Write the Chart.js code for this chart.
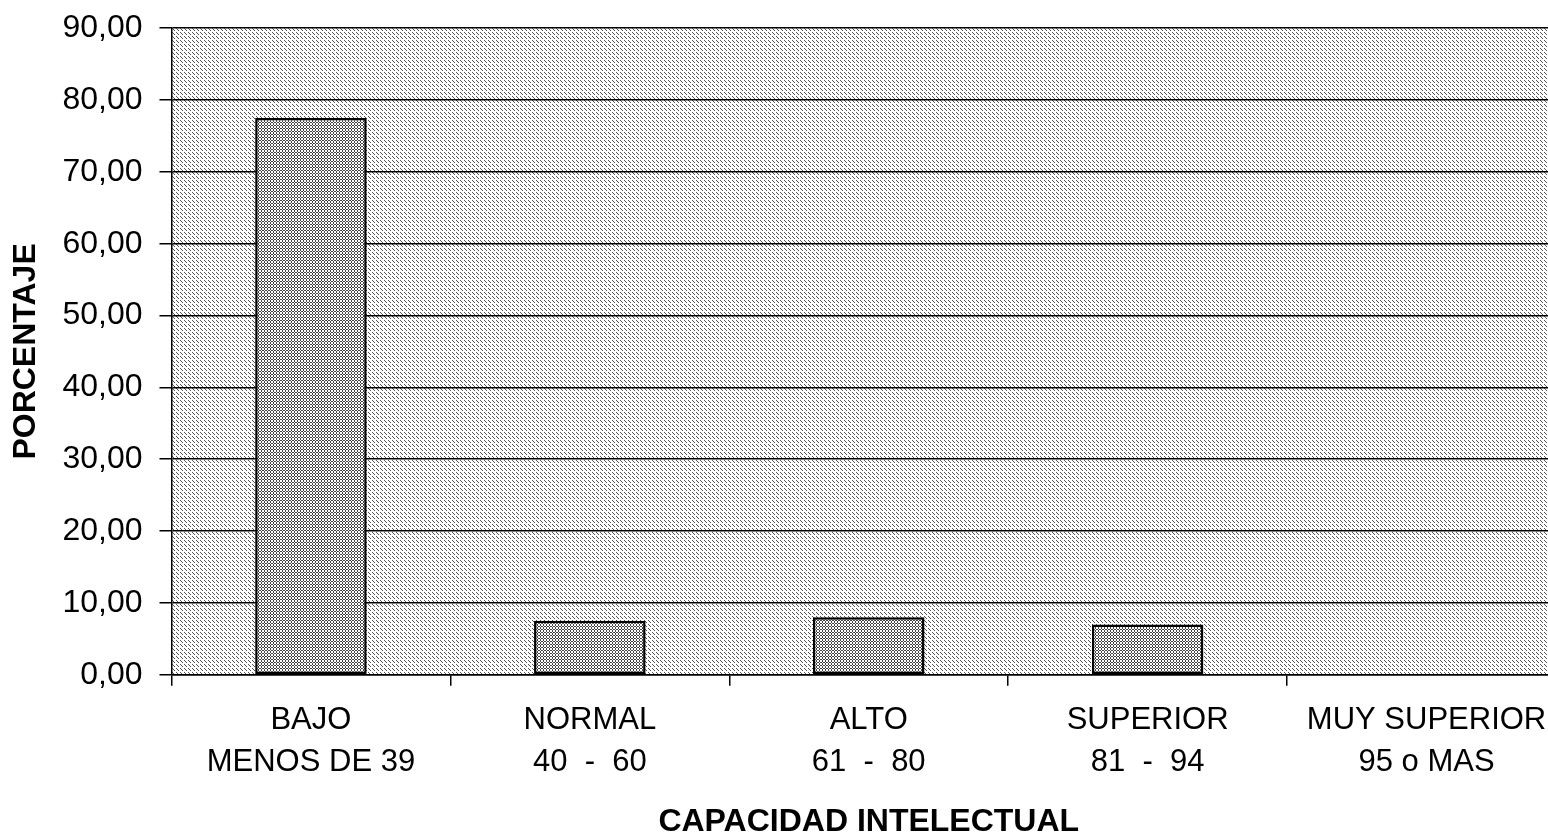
<!DOCTYPE html>
<html>
<head>
<meta charset="utf-8">
<script src="https://cdn.jsdelivr.net/npm/chart.js@4"></script>
<style>
  html, body { margin: 0; padding: 0; background: #fff; overflow: hidden; }
  #wrap { width: 1566px; height: 833px; }
</style>
</head>
<body>
<div id="wrap"><canvas id="c" width="1566" height="833"></canvas></div>
<script>
const categories = [
  ["BAJO", "MENOS DE 39"],
  ["NORMAL", "40  -  60"],
  ["ALTO", "61  -  80"],
  ["SUPERIOR", "81  -  94"],
  ["MUY SUPERIOR", "95 o MAS"]
];
const porcentaje = [77.5, 7.5, 8.0, 7.0, 0];
const yTickMin = 0, yTickMax = 90, yTickStep = 10;
const xTitle = "CAPACIDAD INTELECTUAL";
const yTitle = "PORCENTAJE";

function makePattern(size, dots, dotColor) {
  const t = document.createElement('canvas');
  t.width = size[0]; t.height = size[1];
  const g = t.getContext('2d');
  g.fillStyle = '#ffffff';
  g.fillRect(0, 0, t.width, t.height);
  g.fillStyle = dotColor;
  dots.forEach(d => g.fillRect(d[0], d[1], 1, 1));
  return document.getElementById('c').getContext('2d').createPattern(t, 'repeat');
}
const bgPattern = makePattern([4, 4], [[0,0],[2,2],[1,1]], '#555');
const barPattern = makePattern([3, 3], [[0,0],[0,1],[2,2],[1,2]], '#444');

const plotBg = {
  id: 'plotBg',
  beforeDraw(chart) {
    const {ctx, chartArea: a} = chart;
    ctx.save();
    ctx.fillStyle = bgPattern;
    ctx.fillRect(a.left, a.top, a.right - a.left, a.bottom - a.top);
    ctx.restore();
  }
};

const font = 'Arial, "Liberation Sans", Helvetica, sans-serif';

new Chart(document.getElementById('c'), {
  type: 'bar',
  data: {
    labels: categories,
    datasets: [{
      data: porcentaje,
      backgroundColor: barPattern,
      borderColor: '#000',
      borderWidth: 2.5,
      borderSkipped: false,
      barPercentage: 0.4,
      categoryPercentage: 1.0
    }]
  },
  options: {
    responsive: false,
    animation: false,
    devicePixelRatio: 1,
    layout: { padding: { left: 7, top: 2, right: 0, bottom: 0 } },
    plugins: { legend: { display: false }, tooltip: { enabled: false } },
    scales: {
      x: {
        offset: true,
        grid: { offset: true, drawOnChartArea: false, drawTicks: true, tickLength: 11, color: '#000', lineWidth: 1.5 },
        border: { display: true, color: '#000', width: 1.5 },
        ticks: { color: '#000', font: { family: font, size: 31, lineHeight: 1.36 }, padding: 14, maxRotation: 0, autoSkip: false },
        title: { display: true, text: xTitle, color: '#000', font: { family: font, size: 32, weight: 'bold', lineHeight: 1.0 }, padding: { top: 8, bottom: -5 } }
      },
      y: {
        min: yTickMin, max: yTickMax,
        grid: { color: '#000', lineWidth: 1.5, tickLength: 12, drawTicks: true },
        border: { display: true, color: '#000', width: 1.5 },
        ticks: {
          stepSize: yTickStep, color: '#000', padding: 17,
          font: { family: font, size: 32, lineHeight: 0.7 },
          callback: v => v.toFixed(2).replace('.', ',')
        },
        title: { display: true, text: yTitle, color: '#000', font: { family: font, size: 32, weight: 'bold' }, padding: { top: 0, bottom: 0 } }
      }
    }
  },
  plugins: [plotBg]
});
</script>
</body>
</html>
